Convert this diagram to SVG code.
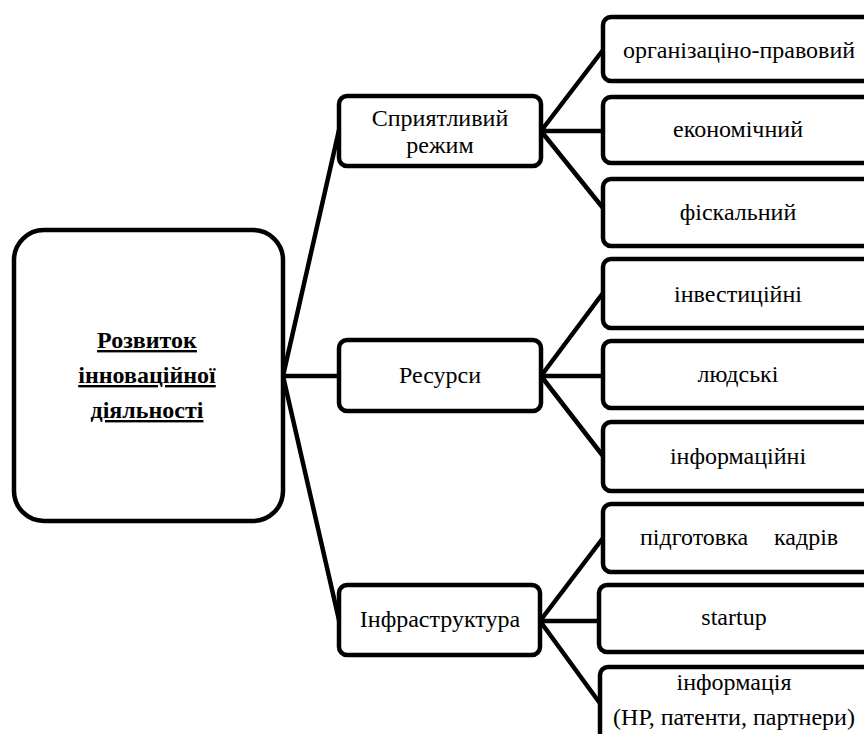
<svg xmlns="http://www.w3.org/2000/svg" width="864" height="734" viewBox="0 0 864 734">
<style>
.box{fill:#fff;stroke:#000;stroke-width:4.5}
.t{font-family:'Liberation Serif','Times New Roman',serif;font-size:24px;fill:#000;text-anchor:middle}
.b{font-weight:bold;text-decoration:underline}
.c{stroke:#000;stroke-width:4.5;fill:none;stroke-linecap:round}
</style>
<rect width="864" height="734" fill="#fff"/>
<g id="connectors">
<path class="c" d="M283 376 L339 130 M283 376 L339 376 M283 376 L339 620"/>
<path class="c" d="M541 131 L603 50 M541 131 L603 131 M541 131 L603 208"/>
<path class="c" d="M541 376 L603 293 M541 376 L603 376 M541 376 L603 456"/>
<path class="c" d="M540 621 L603 538 M540 621 L599 621 M540 621 L599 702"/>
</g>
<g id="main">
<rect class="box" x="14" y="230" width="269" height="291" rx="30"/>
<text class="t b" x="147" y="348">Розвиток</text>
<text class="t b" x="147" y="383">інноваційної</text>
<text class="t b" x="147" y="418">діяльності</text>
</g>
<g id="regime">
<rect class="box" x="339" y="96" width="202" height="70" rx="8"/>
<text class="t" x="440" y="126">Сприятливий</text>
<text class="t" x="440" y="153">режим</text>
</g>
<g id="resources">
<rect class="box" x="339" y="340" width="202" height="71" rx="8"/>
<text class="t" x="440" y="383">Ресурси</text>
</g>
<g id="infra">
<rect class="box" x="339" y="585" width="201" height="70" rx="8"/>
<text class="t" x="440" y="627">Інфраструктура</text>
</g>
<g id="org">
<rect class="box" x="603" y="17" width="273" height="64" rx="8"/>
<text class="t" x="739" y="58">організаціно-правовий</text>
</g>
<g id="econ">
<rect class="box" x="603" y="97" width="273" height="66" rx="8"/>
<text class="t" x="738" y="137">економічний</text>
</g>
<g id="fisc">
<rect class="box" x="603" y="179" width="273" height="67" rx="8"/>
<text class="t" x="738" y="220">фіскальний</text>
</g>
<g id="invest">
<rect class="box" x="603" y="259" width="273" height="69" rx="8"/>
<text class="t" x="738" y="302">інвестиційні</text>
</g>
<g id="human">
<rect class="box" x="603" y="341" width="273" height="67" rx="8"/>
<text class="t" x="738" y="382">людські</text>
</g>
<g id="infoRes">
<rect class="box" x="603" y="422" width="273" height="69" rx="8"/>
<text class="t" x="738" y="464">інформаційні</text>
</g>
<g id="training">
<rect class="box" x="603" y="504" width="273" height="68" rx="8"/>
<text class="t" y="545" style="text-anchor:start"><tspan x="640">підготовка</tspan><tspan x="774">кадрів</tspan></text>
</g>
<g id="startup">
<rect class="box" x="599" y="585" width="277" height="67" rx="8"/>
<text class="t" x="734" y="625">startup</text>
</g>
<g id="info">
<rect class="box" x="600" y="667" width="276" height="80" rx="8"/>
<text class="t" x="734" y="690">інформація</text>
<text class="t" x="734" y="725">(НР, патенти, партнери)</text>
</g>
</svg>
